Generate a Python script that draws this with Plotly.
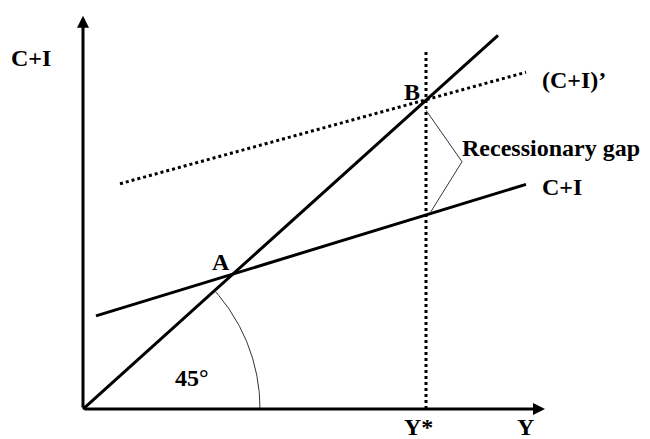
import numpy as np
import plotly.graph_objects as go

# Keynesian cross: planned spending against income Y
line45_end = 415            # income reached by the 45-degree line
ci_intercept = 99           # C+I: autonomous spending
ci_slope = 0.34             # C+I: marginal propensity to spend
ci_span = [13, 443]
ci2_intercept = 239         # (C+I)' after the spending shift
ci2_slope = 0.305
ci2_span = [37, 443]
y_full = 343                # full-employment income Y*
y_full_top = 399
x_axis_end = 462
y_axis_end = 437
arc_radius = 177

W, H = 650, 439
x_range = [-83, 567]
y_range = [-33.3, 454.4]
px_per_x = W / (x_range[1] - x_range[0])
px_per_y = H / (y_range[1] - y_range[0])

FONT = dict(family="Liberation Serif, Times New Roman, serif", size=24, color="black")


def ci(y):
    return ci_intercept + ci_slope * np.asarray(y)


def ci2(y):
    return ci2_intercept + ci2_slope * np.asarray(y)


# equilibria: A on C+I, B on (C+I)'
y_a = ci_intercept / (1 - ci_slope)
y_b = ci2_intercept / (1 - ci2_slope)

fig = go.Figure()

black = dict(color="black", width=3)

# 45-degree line
fig.add_trace(go.Scatter(x=[0, line45_end], y=[0, line45_end], mode="lines", line=black))
# C+I
fig.add_trace(go.Scatter(x=ci_span, y=ci(ci_span), mode="lines", line=black))
# (C+I)'
fig.add_trace(go.Scatter(x=ci2_span, y=ci2(ci2_span), mode="lines",
                         line=dict(color="black", width=3, dash="dot")))
# Y* vertical
fig.add_trace(go.Scatter(x=[y_full, y_full], y=[0, y_full_top], mode="lines",
                         line=dict(color="black", width=3, dash="dot")))

# angle arc for the 45-degree mark, round on screen
theta_end = np.arctan2(1 * px_per_y, 1 * px_per_x)
theta = np.linspace(0, theta_end, 60)
arc_x = arc_radius * np.cos(theta) / px_per_x
arc_y = arc_radius * np.sin(theta) / px_per_y
fig.add_trace(go.Scatter(x=arc_x, y=arc_y, mode="lines",
                         line=dict(color="#333333", width=1)))

# bracket marking the recessionary gap
gap_top = y_b - 12
gap_bottom = float(ci(y_full)) + 2
apex_x = y_full + 36
apex_y = (gap_top + gap_bottom) / 2
fig.add_trace(go.Scatter(x=[y_full, apex_x, y_full + 4], y=[gap_top, apex_y, gap_bottom],
                         mode="lines", line=dict(color="#333333", width=1)))

annotations = []
# axes with arrowheads
for tip in [(0, y_axis_end), (x_axis_end, 0)]:
    annotations.append(dict(x=tip[0], y=tip[1], ax=0, ay=0, axref="x", ayref="y",
                            xref="x", yref="y", text="", showarrow=True,
                            arrowhead=2, arrowsize=0.8, arrowwidth=3, arrowcolor="black"))


def label(text, x, y, xanchor="center", xshift=0, yshift=0):
    annotations.append(dict(x=x, y=y, xref="x", yref="y", text=f"<b>{text}</b>",
                            showarrow=False, font=FONT, xanchor=xanchor, yanchor="middle",
                            xshift=xshift, yshift=yshift))


label("C+I", -52, 390)
label("B", y_b, y_b, xshift=-15, yshift=7)
label("A", y_a, y_a, xshift=-12, yshift=12)
label("(C+I)’", ci2_span[1], float(ci2(ci2_span[1])), xanchor="left", xshift=14, yshift=-8)
label("C+I", ci_span[1], float(ci(ci_span[1])), xanchor="left", xshift=14, yshift=-3)
label("Recessionary gap", apex_x, apex_y, xanchor="left", xshift=-2, yshift=14)
label("45°", 109, 35)
label("Y*", y_full, 0, xshift=-8, yshift=-18)
label("Y", 442, 0, yshift=-18)

fig.update_layout(
    width=W, height=H,
    margin=dict(l=0, r=0, t=0, b=0),
    paper_bgcolor="white", plot_bgcolor="white",
    showlegend=False,
    xaxis=dict(range=x_range, visible=False, fixedrange=True),
    yaxis=dict(range=y_range, visible=False, fixedrange=True),
    annotations=annotations,
)

fig.write_html("out.html")
